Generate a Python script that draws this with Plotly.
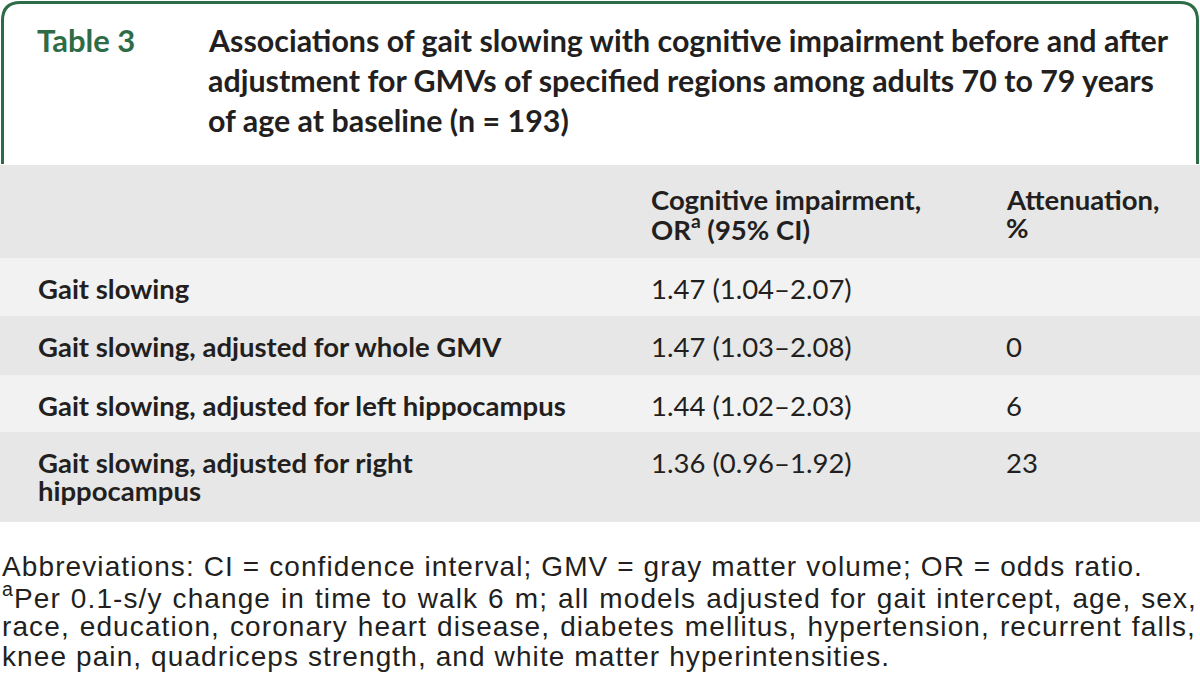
import plotly.graph_objects as go

# ---- data ----
table_label = "Table 3"
title_lines = [
    "Associations of gait slowing with cognitive impairment before and after",
    "adjustment for GMVs of specified regions among adults 70 to 79 years",
    "of age at baseline (n = 193)",
]
col_headers = [
    ["", ""],
    ["Cognitive impairment,", "OR<sup>a</sup> (95% CI)"],
    ["Attenuation,", "%"],
]
row_labels = [
    ["Gait slowing"],
    ["Gait slowing, adjusted for whole GMV"],
    ["Gait slowing, adjusted for left hippocampus"],
    ["Gait slowing, adjusted for right", "hippocampus"],
]
or_ci = ["1.47 (1.04–2.07)", "1.47 (1.03–2.08)", "1.44 (1.02–2.03)", "1.36 (0.96–1.92)"]
attenuation = ["", "0", "6", "23"]
footnotes = [
    "Abbreviations: CI = confidence interval; GMV = gray matter volume; OR = odds ratio.",
    "<sup>a</sup>Per 0.1-s/y change in time to walk 6 m; all models adjusted for gait intercept, age, sex,",
    "race, education, coronary heart disease, diabetes mellitus, hypertension, recurrent falls,",
    "knee pain, quadriceps strength, and white matter hyperintensities.",
]
# right edge (px) to which a footnote line is justified; 0 = left-aligned (last line of a paragraph)
justify_right = [0, 1197, 1196, 0]

# ---- layout constants ----
W, H = 1200, 697
GREEN = "#2e6b47"
TXT = "#231f20"
DARK_FILL = "#e6e7e6"
LIGHT_FILL = "#f2f2f2"
BOLD_FONT = "Lato"
REG_FONT = "Lato"
FOOT_FONT = "Liberation Sans"
FOOT_SIZE = 28
FOOT_LINE1_RIGHT = 1143  # natural right edge of the first footnote line, sets the tracking
BODY_SIZE = 27.5
col_x = [36, 649, 1004]
header_top, header_bot = 165, 258
row_bounds = [258, 316, 375, 432, 522]
line_h_body = 28.5

fig = go.Figure()
shapes = []
ann = []

# green rounded frame around title
r = 18
shapes.append(dict(
    type="path",
    path=f"M 2.5,164 L 2.5,{2.5+r} Q 2.5,2.5 {2.5+r},2.5 L {1197.5-r},2.5 Q 1197.5,2.5 1197.5,{2.5+r} L 1197.5,164",
    line=dict(color=GREEN, width=3), xref="x", yref="y", layer="above"))

ann.append(dict(x=35, y=40, text=f"<b>{table_label}</b>", xanchor="left", yanchor="middle",
                font=dict(family=BOLD_FONT, size=31, color=GREEN)))
for i, t in enumerate(title_lines):
    ann.append(dict(x=206, y=40 + 40 * i, text=f"<b>{t}</b>", xanchor="left", yanchor="middle",
                    font=dict(family=BOLD_FONT, size=30.4, color=TXT)))

# header
shapes.append(dict(type="rect", x0=0, x1=W, y0=header_top, y1=header_bot, fillcolor=DARK_FILL,
                   line=dict(width=0), xref="x", yref="y", layer="below"))
for c, lines in enumerate(col_headers):
    for j, t in enumerate(lines):
        if t:
            ann.append(dict(x=col_x[c], y=199 + j * line_h_body, text=f"<b>{t}</b>", xanchor="left",
                            yanchor="middle", font=dict(family=BOLD_FONT, size=BODY_SIZE, color=TXT)))

# body rows
for i in range(len(row_labels)):
    y0, y1 = row_bounds[i], row_bounds[i + 1]
    fill = LIGHT_FILL if i % 2 == 0 else DARK_FILL
    shapes.append(dict(type="rect", x0=0, x1=W, y0=y0, y1=y1, fillcolor=fill,
                       line=dict(width=0), xref="x", yref="y", layer="below"))
    ytop = y0 + 30
    for j, t in enumerate(row_labels[i]):
        ann.append(dict(x=col_x[0], y=ytop + j * line_h_body, text=f"<b>{t}</b>", xanchor="left",
                        yanchor="middle", font=dict(family=BOLD_FONT, size=BODY_SIZE, color=TXT)))
    ann.append(dict(x=col_x[1], y=ytop, text=or_ci[i], xanchor="left", yanchor="middle",
                    font=dict(family=REG_FONT, size=BODY_SIZE, color=TXT)))
    if attenuation[i]:
        ann.append(dict(x=col_x[2], y=ytop, text=attenuation[i], xanchor="left", yanchor="middle",
                        font=dict(family=REG_FONT, size=BODY_SIZE, color=TXT)))

# footnotes
for i, t in enumerate(footnotes):
    ann.append(dict(x=0, y=566 + 30 * i, text=t, xanchor="left", yanchor="middle",
                    font=dict(family=FOOT_FONT, size=FOOT_SIZE, color=TXT)))

for a in ann:
    a.update(xref="x", yref="y", showarrow=False)

fig.update_layout(
    width=W, height=H, margin=dict(l=0, r=0, t=0, b=0),
    paper_bgcolor="white", plot_bgcolor="white",
    xaxis=dict(range=[0, W], visible=False, fixedrange=True),
    yaxis=dict(range=[H, 0], visible=False, fixedrange=True),
    shapes=shapes, annotations=ann, showlegend=False,
)

# footnote typesetting: tracking like the source and justified lines (keyed by a text fragment)
def plain(s):
    return s.replace("<sup>a</sup>", "")

pairs = ",".join(f'["{plain(footnotes[i])[:14]}",{t}]' for i, t in enumerate(justify_right))
post = """
document.body.style.margin='0px';
document.body.style.overflow='hidden';
var jt = [%s];
var line1Right = %d;
function leftOf(el){ var m = el.getScreenCTM(); return el.getBBox().x + (m ? m.e : 0); }
function setup(){
  var texts = Array.prototype.slice.call(document.querySelectorAll('text.annotation-text'));
  var foot = [];
  jt.forEach(function(p){
    texts.forEach(function(el){ if (el.textContent.indexOf(p[0]) >= 0) foot.push([el, p[1]]); });
  });
  if (!foot.length) return;
  var first = foot[0][0];
  var b = first.getBBox();
  var n1 = first.textContent.length;
  var ls = (line1Right - (leftOf(first) + b.width)) / n1;
  if (ls < 0) ls = 0;
  foot.forEach(function(q){
    var el = q[0], target = q[1];
    var bb0 = el.getBBox();
    var left0 = leftOf(el);
    el.style.letterSpacing = ls + 'px';
    if (target > 0){
      var s = el.textContent;
      var n = (s.match(/ /g) || []).length;
      var bbA = el.getBBox();
      var extra = (target - (left0 + bbA.width)) / n;
      if (n > 0 && extra > 0) el.style.wordSpacing = extra + 'px';
    }
    var bb1 = el.getBBox();
    var shift = bb0.x - bb1.x;
    var tr = el.getAttribute('transform') || '';
    el.setAttribute('transform', tr + ' translate(' + shift + ',0)');
  });
}
if (document.fonts && document.fonts.ready) { document.fonts.ready.then(setup); } else { setup(); }
""" % (pairs, FOOT_LINE1_RIGHT)

fig.write_html("out.html", config={"displayModeBar": False, "staticPlot": True}, post_script=post)
